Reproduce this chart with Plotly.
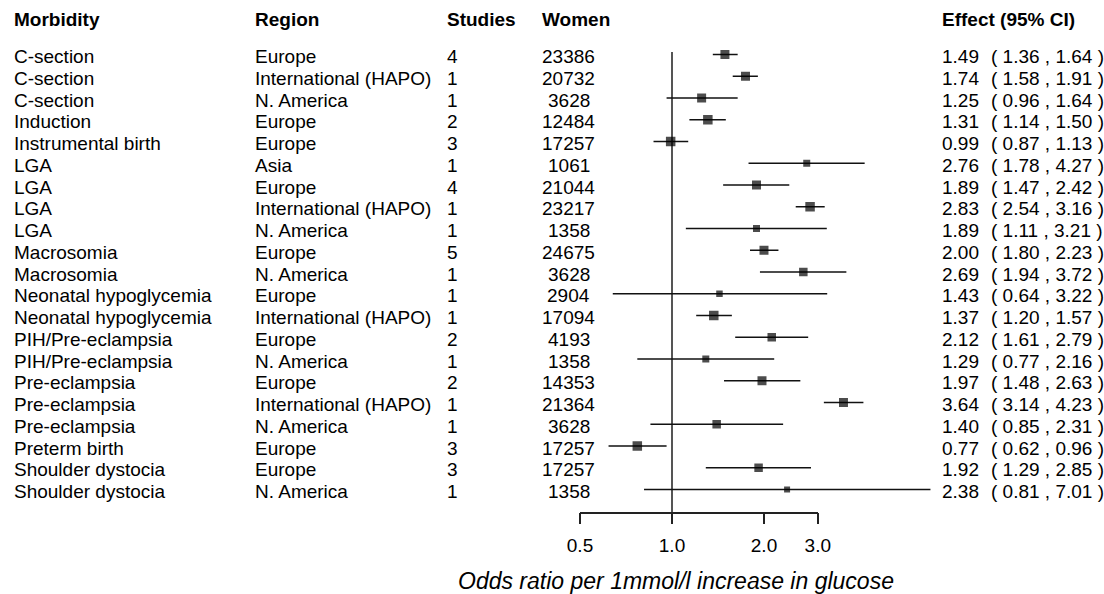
import math
import plotly.graph_objects as go

# ---------------- data ----------------
morbidity = ["C-section", "C-section", "C-section", "Induction", "Instrumental birth",
             "LGA", "LGA", "LGA", "LGA", "Macrosomia", "Macrosomia",
             "Neonatal hypoglycemia", "Neonatal hypoglycemia", "PIH/Pre-eclampsia",
             "PIH/Pre-eclampsia", "Pre-eclampsia", "Pre-eclampsia", "Pre-eclampsia",
             "Preterm birth", "Shoulder dystocia", "Shoulder dystocia"]
region = ["Europe", "International (HAPO)", "N. America", "Europe", "Europe",
          "Asia", "Europe", "International (HAPO)", "N. America", "Europe", "N. America",
          "Europe", "International (HAPO)", "Europe", "N. America", "Europe",
          "International (HAPO)", "N. America", "Europe", "Europe", "N. America"]
studies = [4, 1, 1, 2, 3, 1, 4, 1, 1, 5, 1, 1, 1, 2, 1, 2, 1, 1, 3, 3, 1]
women = [23386, 20732, 3628, 12484, 17257, 1061, 21044, 23217, 1358, 24675, 3628,
         2904, 17094, 4193, 1358, 14353, 21364, 3628, 17257, 17257, 1358]
odds_ratio = [1.49, 1.74, 1.25, 1.31, 0.99, 2.76, 1.89, 2.83, 1.89, 2.00, 2.69,
              1.43, 1.37, 2.12, 1.29, 1.97, 3.64, 1.40, 0.77, 1.92, 2.38]
ci_lower = [1.36, 1.58, 0.96, 1.14, 0.87, 1.78, 1.47, 2.54, 1.11, 1.80, 1.94,
            0.64, 1.20, 1.61, 0.77, 1.48, 3.14, 0.85, 0.62, 1.29, 0.81]
ci_upper = [1.64, 1.91, 1.64, 1.50, 1.13, 4.27, 2.42, 3.16, 3.21, 2.23, 3.72,
            3.22, 1.57, 2.79, 2.16, 2.63, 4.23, 2.31, 0.96, 2.85, 7.01]
tick_values = [0.5, 1.0, 2.0, 3.0]
tick_labels = ["0.5", "1.0", "2.0", "3.0"]
headers = ["Morbidity", "Region", "Studies", "Women", "Effect (95% CI)"]
x_title = "Odds ratio per 1mmol/l increase in glucose"

# ---------------- style / layout ----------------
box_px = [9, 9, 9, 9.5, 9.5, 7, 9, 9.5, 7, 9, 8.5, 6.5, 9.5, 8.5, 7, 9, 9, 8.5, 9.5, 8.5, 6]
W, H = 1104, 594
FONT = "Liberation Sans, Arial, sans-serif"
FS = 19
row0_px, row_step = 54.5, 21.75          # pixel of first row, spacing
ref_px, px_per_dec = 672.0, 305.6        # pixel of OR=1, pixels per decade
ax_left_px, ax_right_px = 560.0, 940.0
axis_line_px = 512.5

n = len(morbidity)
rows = list(range(n))


def px_of(v):
    return ref_px + math.log10(v) * px_per_dec


fig = go.Figure()

# CI lines
xs, ys = [], []
for i in rows:
    xs += [ci_lower[i], ci_upper[i], None]
    ys += [i, i, None]
fig.add_trace(go.Scatter(x=xs, y=ys, mode="lines",
                         line=dict(color="#111111", width=1.5),
                         hoverinfo="skip", showlegend=False))
# point estimates
fig.add_trace(go.Scatter(x=odds_ratio, y=rows, mode="markers",
                         marker=dict(symbol="square", size=box_px, color="black",
                                     line=dict(width=0)),
                         hoverinfo="skip", showlegend=False))
# invisible trace to carry the visible axis
fig.add_trace(go.Scatter(x=[tick_values[0], tick_values[-1]], y=[0, 0], xaxis="x2", yaxis="y",
                         mode="markers", marker=dict(size=1, opacity=0),
                         hoverinfo="skip", showlegend=False))

r0 = (ax_left_px - ref_px) / px_per_dec
r1 = (ax_right_px - ref_px) / px_per_dec
a0 = px_of(tick_values[0])
a1 = px_of(tick_values[-1])

fig.update_layout(
    width=W, height=H,
    margin=dict(l=0, r=0, t=0, b=0, pad=0, autoexpand=False),
    paper_bgcolor="white", plot_bgcolor="rgba(0,0,0,0)",
    font=dict(family=FONT, size=FS, color="black"),
    showlegend=False,
    xaxis=dict(type="log", domain=[ax_left_px / W, ax_right_px / W], range=[r0, r1],
               showgrid=False, zeroline=False, showline=False, showticklabels=False,
               ticks="", automargin=False),
    xaxis2=dict(type="log", anchor="free",
                position=1 - axis_line_px / H,
                domain=[a0 / W, a1 / W],
                range=[math.log10(tick_values[0]), math.log10(tick_values[-1])],
                showgrid=False, zeroline=False, showline=True, linecolor="#222222",
                linewidth=1.5, ticks="outside", ticklen=11, tickwidth=1.5,
                tickcolor="#222222", tickvals=tick_values, ticktext=tick_labels,
                tickfont=dict(family=FONT, size=FS, color="black"),
                ticklabelstandoff=5, side="bottom", automargin=False),
    yaxis=dict(domain=[0, 1],
               range=[(H - row0_px) / row_step, (0 - row0_px) / row_step],
               showgrid=False, zeroline=False, showline=False, showticklabels=False,
               ticks="", automargin=False),
)

# reference line at OR = 1
fig.add_shape(type="line", xref="x", yref="paper", x0=1, x1=1,
              y0=1 - 52 / H, y1=1 - axis_line_px / H,
              line=dict(color="#555555", width=2), layer="below")

# headers
header_x = [12, 253, 445, 540, 940]
for hx, txt in zip(header_x, headers):
    fig.add_annotation(x=hx / W, y=1 - 19 / H, xref="paper", yref="paper",
                       text=f"<b>{txt}</b>", showarrow=False, xanchor="left",
                       yanchor="middle", font=dict(family=FONT, size=FS, color="black"))

# table rows
for i in rows:
    common = dict(y=i, xref="paper", yref="y", showarrow=False, yanchor="middle",
                  yshift=-2, font=dict(family=FONT, size=FS, color="black"))
    fig.add_annotation(x=12 / W, text=morbidity[i], xanchor="left", **common)
    fig.add_annotation(x=253 / W, text=region[i], xanchor="left", **common)
    fig.add_annotation(x=445 / W, text=str(studies[i]), xanchor="left", **common)
    fig.add_annotation(x=568.5 / W, text=str(women[i]), xanchor="center", **common)
    fig.add_annotation(x=940 / W, text=f"{odds_ratio[i]:.2f}", xanchor="left", **common)
    fig.add_annotation(x=989 / W, text=f"( {ci_lower[i]:.2f} , {ci_upper[i]:.2f} )",
                       xanchor="left", **common)

# axis title
fig.add_annotation(x=676 / W, y=1 - 580.5 / H, xref="paper", yref="paper",
                   text=f"<i>{x_title}</i>", showarrow=False, xanchor="center",
                   yanchor="middle", font=dict(family=FONT, size=23, color="black"))

fig.write_html("out.html")
